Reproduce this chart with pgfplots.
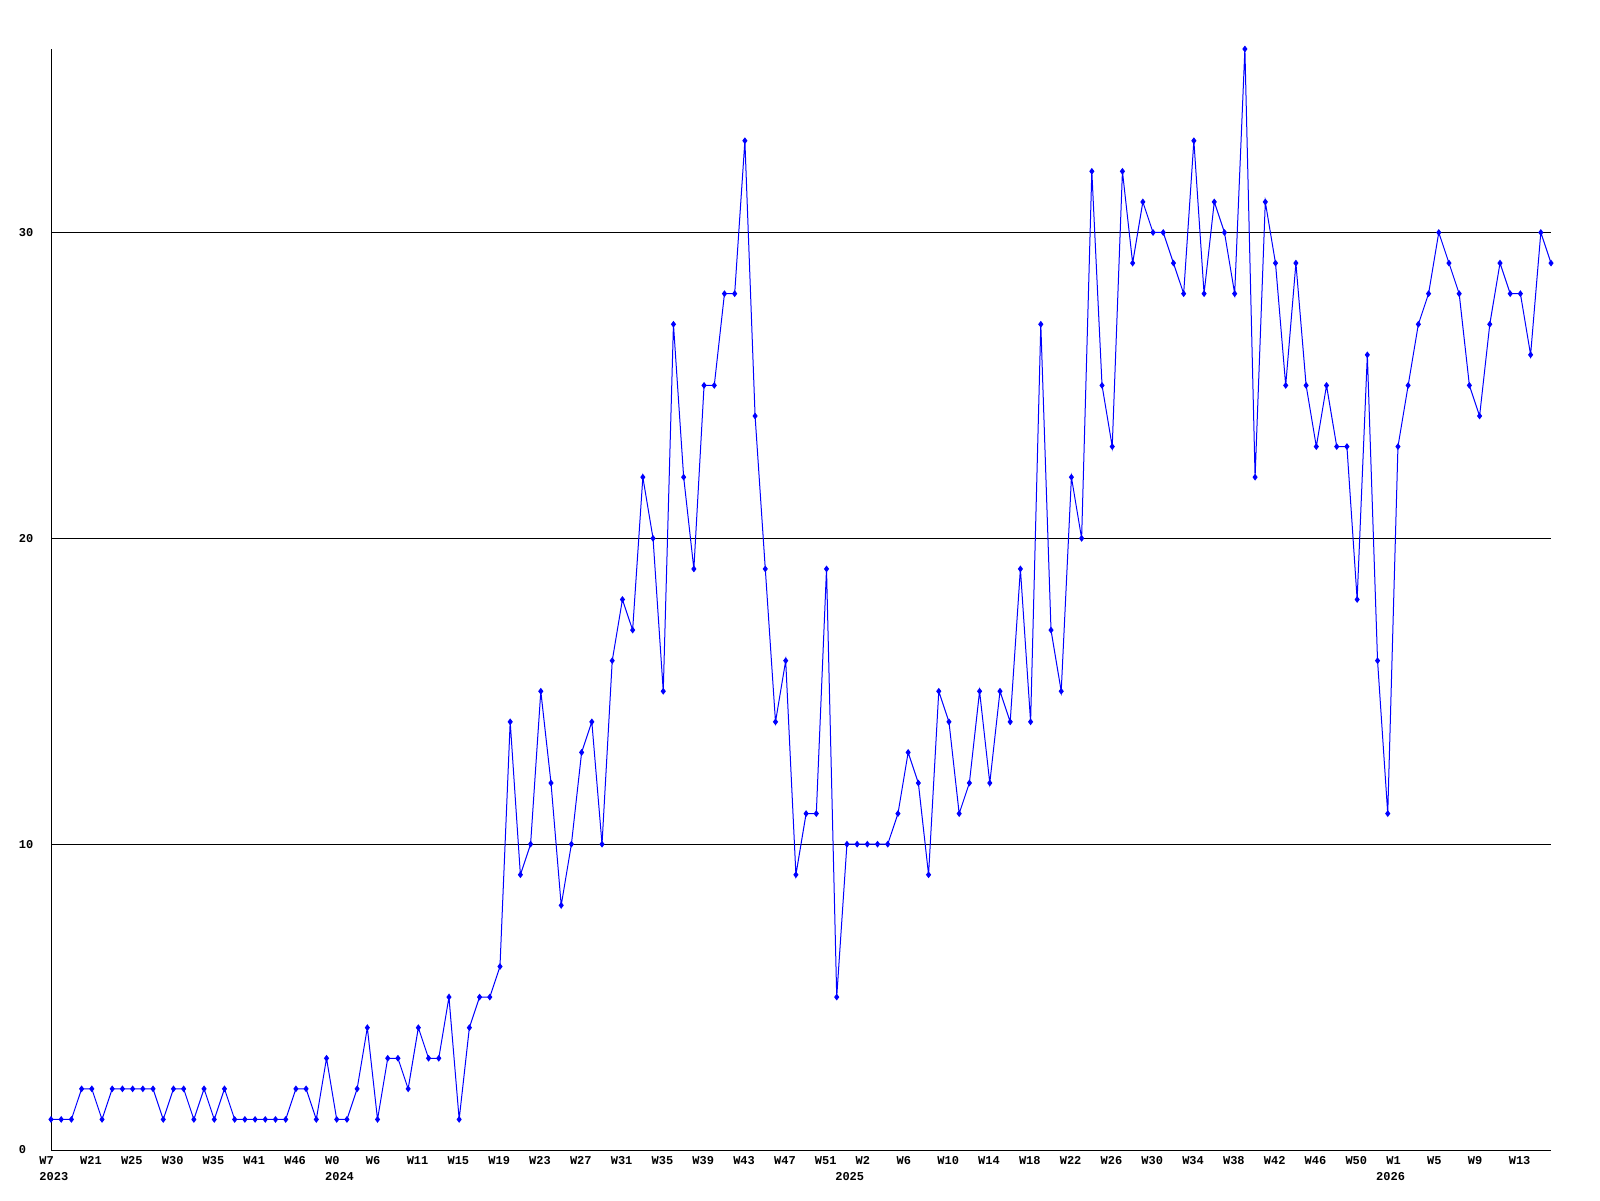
\documentclass[border=0pt]{standalone}
\usepackage{fontspec}
\setmainfont{Liberation Mono}
\usepackage{pgfplots}
\pgfplotsset{compat=1.18}

\begin{document}
\begin{tikzpicture}
\useasboundingbox (-25.5pt,-25pt) rectangle (774.5pt,575pt);
\begin{axis}[scale only axis,width=750pt,height=550.5pt,
  xmin=0,xmax=147,ymin=0,ymax=36,
  axis x line*=bottom,axis y line*=left,axis line style={-,black,line width=0.5pt},
  ymajorgrids,grid style={black,line width=0.5pt},
  ytick={0,10,20,30},
  xtick={0,4,...,144},
  xticklabels={W7,W21,W25,W30,W35,W41,W46,W0,W6,W11,W15,W19,W23,W27,W31,W35,W39,W43,W47,W51,W2,W6,W10,W14,W18,W22,W26,W30,W34,W38,W42,W46,W50,W1,W5,W9,W13},
  major tick length=0pt,
  /pgf/number format/assume math mode=true,
  tick label style={font=\bfseries\fontsize{6}{7}\selectfont,inner sep=0pt},
  xticklabel style={anchor=north west,xshift=-6pt,yshift=-3pt},
  yticklabel style={anchor=west,xshift=-16.3pt},
  clip=false]
\addplot[blue,line width=0.5pt,mark=diamond*,mark size=1.3pt]
table[x expr=\coordindex,y index=0,row sep=\\]{v \\
1 \\ 1 \\ 1 \\ 2 \\ 2 \\ 1 \\ 2 \\ 2 \\ 2 \\ 2 \\
2 \\ 1 \\ 2 \\ 2 \\ 1 \\ 2 \\ 1 \\ 2 \\ 1 \\ 1 \\
1 \\ 1 \\ 1 \\ 1 \\ 2 \\ 2 \\ 1 \\ 3 \\ 1 \\ 1 \\
2 \\ 4 \\ 1 \\ 3 \\ 3 \\ 2 \\ 4 \\ 3 \\ 3 \\ 5 \\
1 \\ 4 \\ 5 \\ 5 \\ 6 \\ 14 \\ 9 \\ 10 \\ 15 \\ 12 \\
8 \\ 10 \\ 13 \\ 14 \\ 10 \\ 16 \\ 18 \\ 17 \\ 22 \\ 20 \\
15 \\ 27 \\ 22 \\ 19 \\ 25 \\ 25 \\ 28 \\ 28 \\ 33 \\ 24 \\
19 \\ 14 \\ 16 \\ 9 \\ 11 \\ 11 \\ 19 \\ 5 \\ 10 \\ 10 \\
10 \\ 10 \\ 10 \\ 11 \\ 13 \\ 12 \\ 9 \\ 15 \\ 14 \\ 11 \\
12 \\ 15 \\ 12 \\ 15 \\ 14 \\ 19 \\ 14 \\ 27 \\ 17 \\ 15 \\
22 \\ 20 \\ 32 \\ 25 \\ 23 \\ 32 \\ 29 \\ 31 \\ 30 \\ 30 \\
29 \\ 28 \\ 33 \\ 28 \\ 31 \\ 30 \\ 28 \\ 36 \\ 22 \\ 31 \\
29 \\ 25 \\ 29 \\ 25 \\ 23 \\ 25 \\ 23 \\ 23 \\ 18 \\ 26 \\
16 \\ 11 \\ 23 \\ 25 \\ 27 \\ 28 \\ 30 \\ 29 \\ 28 \\ 25 \\
24 \\ 27 \\ 29 \\ 28 \\ 28 \\ 26 \\ 30 \\ 29 \\
};
% year labels under the week labels
\foreach \i/\yr in {0/2023,28/2024,78/2025,131/2026}{
  \edef\tmp{\noexpand\node[anchor=north west,inner sep=0pt,xshift=-6pt,yshift=-10.8pt,
    font=\noexpand\bfseries\noexpand\fontsize{6}{7}\noexpand\selectfont] at (axis cs:\i,0) {\yr};}
  \tmp
}
\end{axis}
\end{tikzpicture}
\end{document}
